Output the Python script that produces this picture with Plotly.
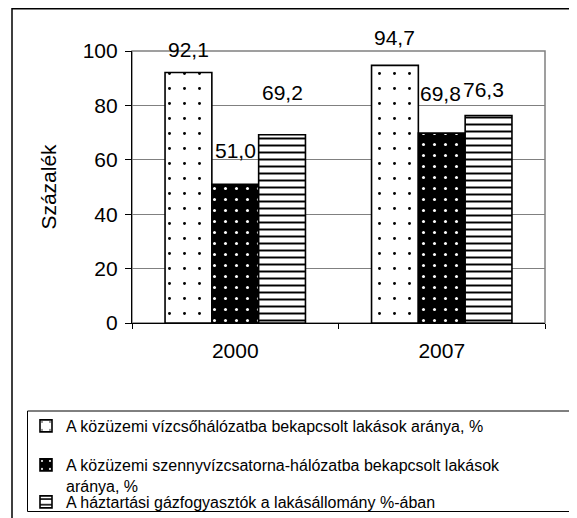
import plotly.graph_objects as go

# ---- data ----
categories = ["2000", "2007"]
series_names = [
    "A közüzemi vízcsőhálózatba bekapcsolt lakások aránya, %",
    "A közüzemi szennyvízcsatorna-hálózatba bekapcsolt lakások<br>aránya, %",
    "A háztartási gázfogyasztók a lakásállomány %-ában",
]
water = [92.1, 94.7]
sewer = [51.0, 69.8]
gas = [69.2, 76.3]
y_ticks = [0, 20, 40, 60, 80, 100]
y_title = "Százalék"

# ---- styles ----
FONT = "Liberation Sans, Arial, sans-serif"
OFF = 8  # page body margin
W, H = 569, 510
ML, MR, MT, MB = 124, 32, 43, 195
PW, PH = W - ML - MR, H - MT - MB

patterns = [
    dict(shape=".", bgcolor="white", fgcolor="black", size=15, solidity=0.03, fillmode="replace"),
    dict(shape=".", bgcolor="black", fgcolor="white", size=11, solidity=0.06, fillmode="replace"),
    dict(shape="-", bgcolor="white", fgcolor="black", size=7, solidity=0.28, fillmode="replace"),
]
legend_ids = ["legend", "legend2", "legend3"]
# legend first-line centre (page px)
legend_cy = [424, 463, 500]
# label pixel offsets (x shift relative to bar centre, y shift above bar top)
label_dx = [[0, 0], [0, -1], [0, -5]]
label_dy = [[23, 28], [34, 40], [42, 26]]


def px2x(px):
    return (px - OFF - ML) / PW


def py2y(py):
    return (H - MB - (py - OFF)) / PH


fig = go.Figure()
all_series = [water, sewer, gas]
for name, vals, pat, lg in zip(series_names, all_series, patterns, legend_ids):
    fig.add_trace(go.Bar(
        x=categories, y=vals, name=name, legend=lg,
        marker=dict(color=pat["bgcolor"], pattern=pat, line=dict(color="black", width=1.6)),
    ))

bargap = 0.32
cat_w = PW / len(categories)
bar_w = cat_w * (1 - bargap) / len(all_series)
annotations = []
for si, vals in enumerate(all_series):
    off = (si - (len(all_series) - 1) / 2) * bar_w
    for ci, v in enumerate(vals):
        annotations.append(dict(
            x=ci, y=v, xref="x", yref="y",
            text=f"{v:.1f}".replace(".", ","), showarrow=False,
            xshift=off + label_dx[si][ci], yshift=label_dy[si][ci],
            font=dict(family=FONT, size=21, color="black"),
            xanchor="center", yanchor="middle",
        ))

shapes = [
    # outer chart border
    dict(type="rect", xref="paper", yref="paper", x0=px2x(12), x1=px2x(600),
         y0=py2y(540), y1=py2y(8.8), line=dict(color="black", width=1.5), layer="below"),
    # plot area frame
    dict(type="rect", xref="paper", yref="paper", x0=0, x1=1, y0=0, y1=1,
         line=dict(color="#808080", width=1.5), layer="below"),
    # legend box
    dict(type="rect", xref="paper", yref="paper", x0=px2x(27.5), x1=px2x(600),
         y0=py2y(511.5), y1=py2y(411), line=dict(color="black", width=1), layer="below"),
]

legend_style = dict(
    xanchor="left", yanchor="top",
    font=dict(family=FONT, size=16, color="black"),
    bgcolor="rgba(0,0,0,0)", borderwidth=0, valign="top",
)
legends = {}
for lg, cy in zip(legend_ids, legend_cy):
    legends[lg] = dict(x=px2x(26), y=py2y(cy - 15), **legend_style)

fig.update_layout(
    width=W, height=H,
    margin=dict(l=ML, r=MR, t=MT, b=MB, autoexpand=False),
    paper_bgcolor="white", plot_bgcolor="white",
    font=dict(family=FONT, size=21, color="black"),
    barmode="group", bargap=bargap, bargroupgap=0,
    showlegend=True,
    annotations=annotations,
    shapes=shapes,
    xaxis=dict(
        type="category", range=[-0.5, 1.5], showgrid=False, showline=True,
        linecolor="black", linewidth=1.2,
        ticks="outside", tickson="boundaries", ticklen=5, tickcolor="black",
        tickfont=dict(family=FONT, size=21), ticklabelstandoff=9,
    ),
    yaxis=dict(
        range=[0, 100], tickvals=y_ticks, showgrid=True, gridcolor="#808080", gridwidth=1,
        showline=True, linecolor="black", linewidth=1.2, zeroline=False,
        ticks="outside", ticklen=6, tickcolor="black",
        tickfont=dict(family=FONT, size=21), ticklabelstandoff=3,
        title=dict(text=y_title, font=dict(family=FONT, size=21), standoff=20),
    ),
    **legends,
)

fig.write_html("out.html")
